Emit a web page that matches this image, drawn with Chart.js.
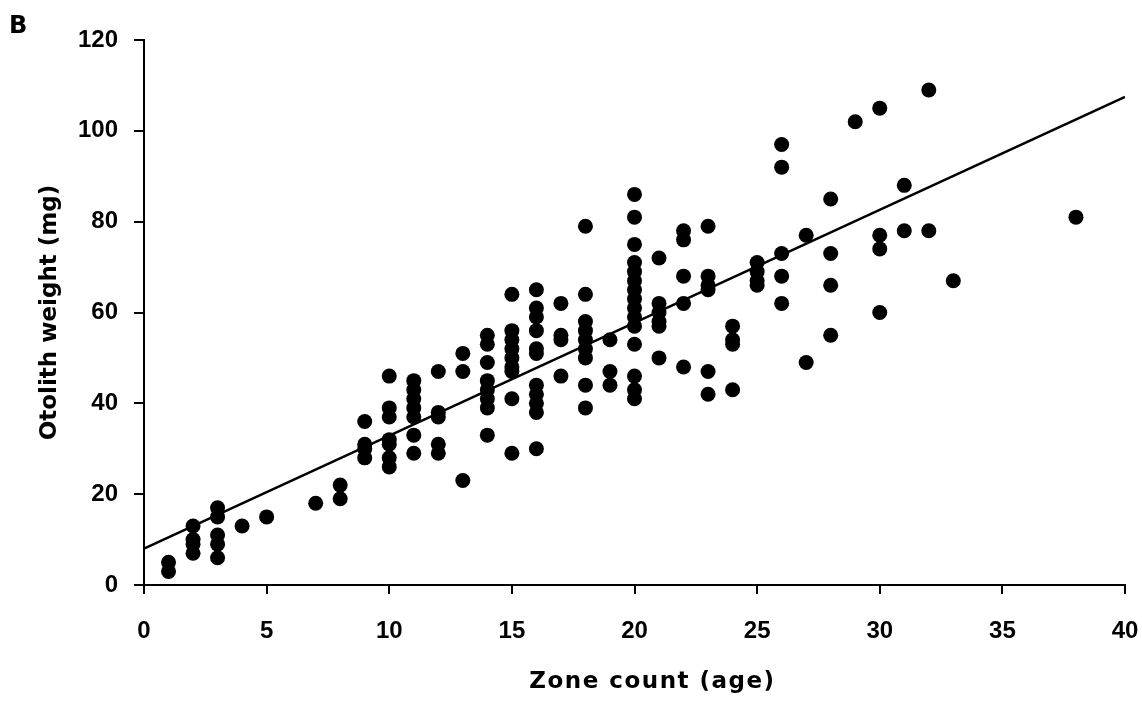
<!DOCTYPE html>
<html>
<head>
<meta charset="utf-8">
<script src="https://cdn.jsdelivr.net/npm/chart.js@4.4.1/dist/chart.umd.min.js"></script>
<style>
  html, body { margin: 0; padding: 0; background: #fff; }
  #wrap { width: 1142px; height: 701px; position: relative; }
</style>
</head>
<body>
<div id="wrap"><canvas id="c" width="1142" height="701"></canvas></div>
<script>
// Zone count (age) for each otolith
const ages = [
  1, 1,
  2, 2, 2, 2,
  3, 3, 3, 3, 3,
  4,
  5,
  7,
  8, 8,
  9, 9, 9, 9,
  10, 10, 10, 10, 10, 10, 10,
  11, 11, 11, 11, 11, 11, 11,
  12, 12, 12, 12, 12,
  13, 13, 13,
  14, 14, 14, 14, 14, 14, 14, 14,
  15, 15, 15, 15, 15, 15, 15, 15, 15,
  16, 16, 16, 16, 16, 16, 16, 16, 16, 16, 16,
  17, 17, 17, 17,
  18, 18, 18, 18, 18, 18, 18, 18, 18,
  19, 19, 19,
  20, 20, 20, 20, 20, 20, 20, 20, 20, 20, 20, 20, 20, 20, 20,
  21, 21, 21, 21, 21, 21,
  22, 22, 22, 22, 22,
  23, 23, 23, 23, 23, 23,
  24, 24, 24, 24,
  25, 25, 25, 25,
  26, 26, 26, 26, 26,
  27, 27,
  28, 28, 28, 28,
  29,
  30, 30, 30, 30,
  31, 31,
  32, 32,
  33,
  38
];
// Otolith weight (mg), same order as ages
const weights = [
  5, 3,
  13, 10, 9, 7,
  17, 15, 11, 9, 6,
  13,
  15,
  18,
  22, 19,
  36, 31, 30, 28,
  46, 39, 37, 32, 31, 28, 26,
  45, 43, 41, 39, 37, 33, 29,
  47, 38, 37, 31, 29,
  51, 47, 23,
  55, 53, 49, 45, 43, 41, 39, 33,
  64, 56, 54, 52, 50, 48, 47, 41, 29,
  65, 61, 59, 56, 52, 51, 44, 42, 40, 38, 30,
  62, 55, 54, 46,
  79, 64, 58, 56, 54, 52, 50, 44, 39,
  54, 47, 44,
  86, 81, 75, 71, 69, 67, 65, 63, 61, 59, 57, 53, 46, 43, 41,
  72, 62, 60, 58, 57, 50,
  78, 76, 68, 62, 48,
  79, 68, 66, 65, 47, 42,
  57, 54, 53, 43,
  71, 69, 67, 66,
  97, 92, 73, 68, 62,
  77, 49,
  85, 73, 66, 55,
  102,
  105, 77, 74, 60,
  88, 78,
  109, 78,
  67,
  81
];
// Regression line end points
const fitX = [0, 40];
const fitY = [8, 107.5];

const xTicks = [0, 5, 10, 15, 20, 25, 30, 35, 40];
const yTicks = [0, 20, 40, 60, 80, 100, 120];

const TITLE_FONT = '"DejaVu Sans", Arial, sans-serif';
const TICK_FONT = '"Liberation Sans", Arial, sans-serif';

const scatterData = ages.map((a, i) => ({ x: a, y: weights[i] }));
const fitData = fitX.map((x, i) => ({ x: x, y: fitY[i] }));

function wrapTitle(scale, dx, spacing) {
  if (scale._titleWrapped) return;
  const orig = scale.drawTitle;
  scale.drawTitle = function () {
    const c = this.ctx;
    c.save();
    c.translate(dx, 0);
    c.letterSpacing = spacing;
    orig.apply(this, arguments);
    c.restore();
  };
  scale._titleWrapped = true;
}

const panelLabel = {
  id: 'panelLabel',
  afterDraw(chart) {
    const ctx = chart.ctx;
    ctx.save();
    ctx.fillStyle = '#000';
    ctx.font = 'bold 24px ' + TITLE_FONT;
    ctx.textBaseline = 'alphabetic';
    ctx.textAlign = 'left';
    ctx.fillText('B', 9, 33);
    ctx.restore();
  }
};

new Chart(document.getElementById('c'), {
  type: 'scatter',
  data: {
    datasets: [
      {
        type: 'line',
        label: 'fit',
        data: fitData,
        borderColor: '#000',
        borderWidth: 2.5,
        pointRadius: 0,
        fill: false,
        tension: 0,
        order: 0
      },
      {
        label: 'otoliths',
        data: scatterData,
        backgroundColor: '#000',
        borderColor: '#000',
        borderWidth: 0,
        pointRadius: 7.5,
        pointHoverRadius: 7.5,
        order: 1
      }
    ]
  },
  options: {
    responsive: false,
    animation: false,
    devicePixelRatio: 1,
    layout: { padding: { top: 40, right: 17, left: 0, bottom: 0 } },
    plugins: {
      legend: { display: false },
      tooltip: { enabled: false },
      title: { display: false }
    },
    scales: {
      x: {
        type: 'linear',
        min: 0,
        max: 40,
        afterFit(scale) {
          scale.height = 116;
          scale.paddingLeft = 0;
          scale.paddingRight = 0;
          wrapTitle(scale, 18, '1.5px');
        },
        afterBuildTicks(scale) { scale.ticks = xTicks.map(v => ({ value: v })); },
        border: { display: true, color: '#000', width: 2 },
        grid: { drawOnChartArea: false, drawTicks: true, tickLength: 9, color: '#000', lineWidth: 2 },
        ticks: {
          color: '#000',
          padding: 23,
          maxRotation: 0,
          font: { family: TICK_FONT, size: 24, weight: 'bold' }
        },
        title: {
          display: true,
          text: 'Zone count (age)',
          color: '#000',
          font: { family: TITLE_FONT, size: 23, weight: 'bold' },
          padding: { top: 0, bottom: 5 }
        }
      },
      y: {
        type: 'linear',
        min: 0,
        max: 120,
        afterFit(scale) {
          scale.width = 144;
        },
        afterBuildTicks(scale) { scale.ticks = yTicks.map(v => ({ value: v })); },
        border: { display: true, color: '#000', width: 2 },
        grid: { drawOnChartArea: false, drawTicks: true, tickLength: 10, color: '#000', lineWidth: 2 },
        ticks: {
          color: '#000',
          padding: 16,
          font: { family: TICK_FONT, size: 24, weight: 'bold' }
        },
        title: {
          display: true,
          text: 'Otolith weight (mg)',
          color: '#000',
          font: { family: TITLE_FONT, size: 23, weight: 'bold' },
          padding: { top: 36, bottom: 0 }
        }
      }
    }
  },
  plugins: [panelLabel]
});
</script>
</body>
</html>
